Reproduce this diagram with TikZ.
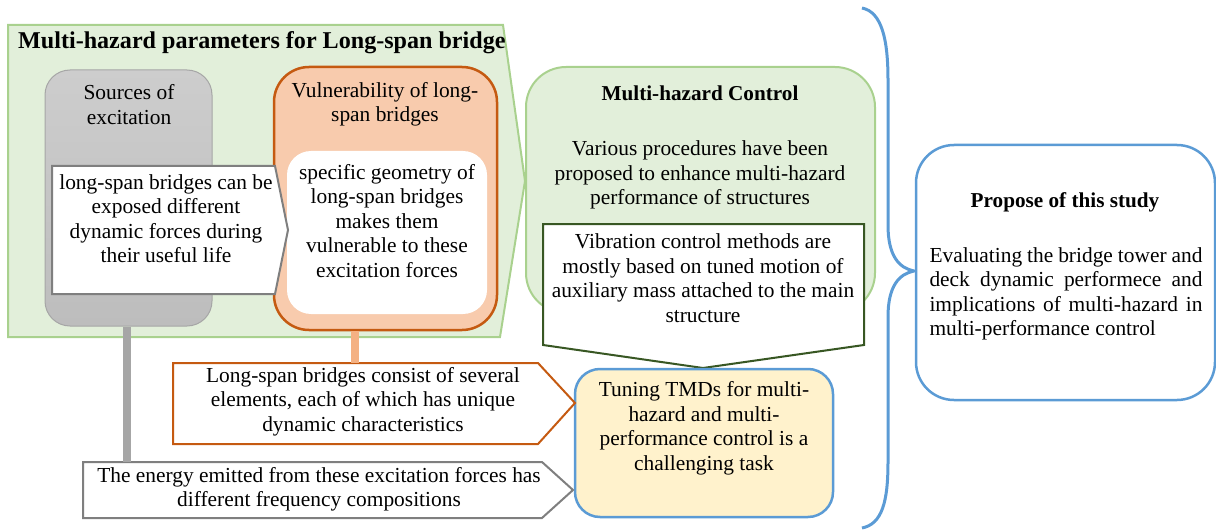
\documentclass[tikz,border=0pt]{standalone}
\usepackage{fontspec}
\setmainfont{Liberation Serif}
\definecolor{grnfill}{HTML}{E2EFDA}
\definecolor{grnline}{HTML}{A9D18E}
\definecolor{orgfill}{HTML}{F8CBAD}
\definecolor{orgline}{HTML}{C55A11}
\definecolor{orgbar}{HTML}{F4B183}
\definecolor{greyline}{HTML}{7F7F7F}
\definecolor{greybar}{HTML}{A6A6A6}
\definecolor{greytop}{HTML}{CDCDCD}
\definecolor{greybot}{HTML}{BDBDBD}
\definecolor{dkgreen}{HTML}{385723}
\definecolor{accent}{HTML}{5B9BD5}
\definecolor{yelfill}{HTML}{FFF2CC}
\begin{document}
\begin{tikzpicture}[x=1pt,y=-1pt,
  txt/.style={font=\fontsize{21.4}{24.5}\selectfont, align=center, inner sep=0pt},
  ttl/.style={font=\fontsize{21.2}{24.5}\selectfont\bfseries, inner sep=0pt},
  panel/.style={rectangle, inner sep=0pt},
  bar/.style={line width=8pt}
]
\useasboundingbox (0,0) rectangle (1216,532);

% outer parameter block (arrow shaped)
\draw[draw=grnline, fill=grnfill, line width=2pt, line join=miter]
  (8,25) -- (503,25) -- (525,181) -- (500,337) -- (8,337) -- cycle;
\node[anchor=base west, inner sep=0pt, font=\fontsize{24.1}{28}\selectfont\bfseries]
  (paramtitle) at (18,48.5) {Multi-hazard parameters for Long-span bridge};

% sources of excitation
\node[panel, draw=greybar, line width=1pt, top color=greytop, bottom color=greybot,
  rounded corners=25pt, minimum width=167pt, minimum height=256pt] (src) at (128.5,198) {};
\node[txt] (srctxt) at (129,104.5) {Sources of\\excitation};

% vulnerability
\node[panel, draw=orgline, fill=orgfill, line width=2.5pt,
  rounded corners=35pt, minimum width=223pt, minimum height=263pt] (vuln) at (385.5,198.5) {};
\node[txt] (vulntxt) at (385,104.5) {Vulnerability of long-\\span bridges};
\node[panel, fill=white, rounded corners=24pt, minimum width=200pt, minimum height=163pt]
  (vulnin) at (387,232.5) {};
\node[txt] (vulnintxt) at (387,221) {specific geometry of\\long-span bridges\\makes them\\vulnerable to these\\excitation forces};

% exposure callout
\draw[draw=greyline, fill=white, line width=2pt, line join=miter]
  (52,166) -- (275,166) -- (288,230) -- (275,294) -- (52,294) -- cycle;
\node[txt] (exposetxt) at (166,218.5) {long-span bridges can be\\exposed different\\dynamic forces during\\their useful life};

% multi-hazard control
\node[panel, draw=grnline, fill=grnfill, line width=2pt,
  rounded corners=40pt, minimum width=349pt, minimum height=246pt] (ctrl) at (700.5,190) {};
\node[ttl] (ctrltitle) at (700,93) {Multi-hazard Control};
\node[txt] (ctrltxt) at (700,175) {Various procedures have been\\proposed to enhance multi-hazard\\performance of structures};

% vibration control callout
\draw[draw=dkgreen, fill=white, line width=2pt, line join=miter]
  (543,224) -- (864,224) -- (864,345) -- (703,368) -- (543,345) -- cycle;
\node[txt] (vibtxt) at (703,278) {Vibration control methods are\\mostly based on tuned motion of\\auxiliary mass attached to the main\\structure};

% TMD tuning
\node[panel, draw=accent, fill=yelfill, line width=2.5pt,
  rounded corners=25pt, minimum width=258pt, minimum height=148pt] (tmd) at (704,443) {};
\node[txt] (tmdtxt) at (704,428.5) {Tuning TMDs for multi-\\hazard and multi-\\performance control is a\\challenging task};

% element callout
\coordinate (consisttop) at (355,363);
\draw[draw=orgline, fill=white, line width=2pt, line join=miter]
  (173,363) -- (538,363) -- (575,403) -- (538,444) -- (173,444) -- cycle;
\node[txt] (consisttxt) at (363,401.5) {Long-span bridges consist of several\\elements, each of which has unique\\dynamic characteristics};

% energy callout
\coordinate (energytop) at (127,462);
\draw[draw=greyline, fill=white, line width=2pt, line join=miter]
  (83,462) -- (542,462) -- (573,490) -- (542,518) -- (83,518) -- cycle;
\node[txt] (energytxt) at (319,489.5) {The energy emitted from these excitation forces has\\different frequency compositions};

% stems
\draw[bar, draw=greybar] (src.south -| energytop) -- (energytop);
\draw[bar, draw=orgbar] (vuln.south -| consisttop) -- (consisttop);

% brace
\draw[draw=accent, line width=3pt]
  (862,8) .. controls (882,12) and (888,40) .. (888,80) -- (888,225)
  .. controls (888,256) and (899,268) .. (914,271)
  .. controls (899,274) and (888,286) .. (888,317) -- (888,462)
  .. controls (888,502) and (882,524) .. (862,528);

% purpose
\node[panel, draw=accent, fill=white, line width=2.5pt,
  rounded corners=38pt, minimum width=299pt, minimum height=255pt] (purpose) at (1065.5,272.5) {};
\node[ttl] (purposetitle) at (1065,202) {Propose of this study};
\node[txt, align=justify, text width=273pt] (purposetxt) at (1066,294)
  {Evaluating the bridge tower and\linebreak deck dynamic performece and\linebreak implications of multi-hazard in\linebreak multi-performance control};
\end{tikzpicture}
\end{document}
